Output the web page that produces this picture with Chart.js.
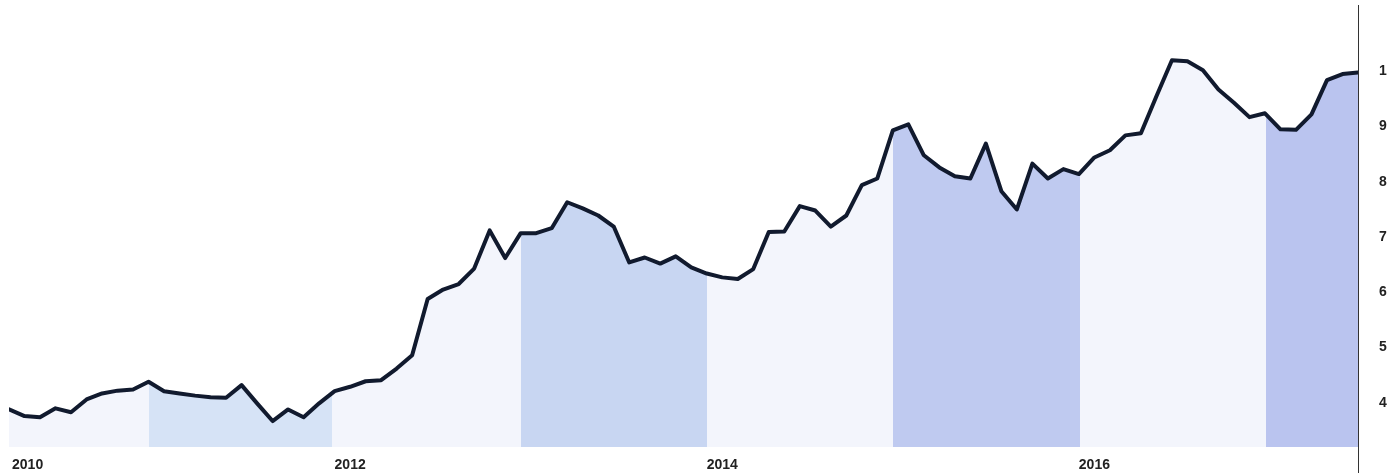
<!DOCTYPE html>
<html>
<head>
<meta charset="utf-8">
<script src="https://cdn.jsdelivr.net/npm/chart.js@4.4.1/dist/chart.umd.min.js"></script>
<style>
  html, body { margin: 0; padding: 0; background: #fff; }
  #wrap { width: 1387px; height: 473px; position: relative; }
</style>
</head>
<body>
<div id="wrap"><canvas id="chart"></canvas></div>
<script>
// monthly series, starts Mar 2010
const startYear = 2010;
const startMonth = 3;
const values = [
  38.8, 37.6, 37.4, 39.0, 38.3, 40.6, 41.7, 42.2, 42.4, 43.8,
  42.1, 41.7, 41.3, 41.0, 40.9, 43.2, 39.9, 36.7, 38.8, 37.4,
  39.9, 42.1, 42.9, 43.9, 44.1, 46.2, 48.6, 58.8, 60.5, 61.5,
  64.3, 71.2, 66.2, 70.7, 70.7, 71.6, 76.3, 75.2, 73.9, 71.9,
  65.4, 66.3, 65.2, 66.5, 64.5, 63.4, 62.7, 62.4, 64.2, 70.9,
  71.0, 75.6, 74.8, 71.9, 73.9, 79.4, 80.6, 89.3, 90.4, 84.8,
  82.6, 81.0, 80.6, 86.9, 78.3, 75.0, 83.3, 80.6, 82.3, 81.4,
  84.4, 85.7, 88.4, 88.8, 95.5, 102.0, 101.8, 100.2, 96.7, 94.3,
  91.7, 92.4, 89.5, 89.4, 92.2, 98.4, 99.5, 99.8
];
const yearTicks = [2010, 2012, 2014, 2016];
const valueTicks = [40, 50, 60, 70, 80, 90, 100];

// shaded periods (Dec - Nov)
const bands = [[2010.92, 2011.90], [2012.92, 2013.92], [2014.92, 2015.92], [2016.92, 2017.50]];
const bandColors = ["#d6e3f6", "#c8d6f2", "#bfcaf0", "#bac4ef"];
const baseFill = "#f3f5fc";

// x position of each month as a fractional year
const months = values.map((v, i) => startYear + (startMonth - 1 + i) / 12);

const labelFont = { family: '"Liberation Sans", Arial, sans-serif', size: 14, weight: "bold" };

function bandFill(context) {
  const chart = context.chart;
  const area = chart.chartArea;
  if (!area) return baseFill;
  const xs = chart.scales.x;
  const w = area.right - area.left;
  const pos = v => Math.min(1, Math.max(0, (xs.getPixelForValue(v) - area.left) / w));
  const g = chart.ctx.createLinearGradient(area.left, 0, area.right, 0);
  g.addColorStop(0, baseFill);
  bands.forEach(([a, b], i) => {
    const pa = pos(a);
    const pb = pos(b);
    g.addColorStop(pa, baseFill);
    g.addColorStop(pa, bandColors[i]);
    g.addColorStop(pb, bandColors[i]);
    if (pb < 1) g.addColorStop(pb, baseFill);
  });
  return g;
}

// right axis line runs to the bottom edge in the original
const axisTail = {
  id: "axisTail",
  afterDraw(chart) {
    const { ctx, chartArea, scales } = chart;
    const x = Math.round(scales.y.left) + 0.5;
    ctx.save();
    ctx.strokeStyle = "#333";
    ctx.lineWidth = 1;
    ctx.beginPath();
    ctx.moveTo(x, chartArea.bottom);
    ctx.lineTo(x, chart.height);
    ctx.stroke();
    ctx.restore();
  }
};

new Chart(document.getElementById("chart"), {
  type: "line",
  data: {
    datasets: [{
      data: months.map((m, i) => ({ x: m, y: values[i] })),
      borderColor: "#111a2e",
      borderWidth: 4,
      borderJoinStyle: "round",
      borderCapStyle: "round",
      backgroundColor: bandFill,
      fill: "start",
      pointRadius: 0,
      tension: 0
    }]
  },
  options: {
    responsive: true,
    maintainAspectRatio: false,
    animation: false,
    layout: { padding: { left: 9, top: 5, right: 0, bottom: 0 } },
    plugins: {
      legend: { display: false },
      tooltip: { enabled: false }
    },
    scales: {
      x: {
        type: "linear",
        min: months[0],
        max: months[months.length - 1],
        grid: { display: false, drawTicks: false },
        border: { display: false },
        afterBuildTicks: scale => {
          scale.ticks = yearTicks.map(y => ({ value: Math.max(y, scale.min + 0.1) }));
        },
        afterFit: scale => { scale.height = 26; },
        ticks: {
          color: "#222",
          font: labelFont,
          padding: 10,
          maxRotation: 0,
          autoSkip: false,
          callback: v => String(Math.floor(v + 1e-6))
        }
      },
      y: {
        position: "right",
        min: 32,
        max: 112,
        grid: { display: false, drawTicks: false },
        border: { display: true, color: "#333", width: 1 },
        afterBuildTicks: scale => {
          scale.ticks = valueTicks.map(v => ({ value: v }));
        },
        afterFit: scale => {
          scale.width = 29;
          scale.paddingTop = 0;
          scale.paddingBottom = 0;
        },
        ticks: {
          color: "#222",
          font: labelFont,
          padding: 21,
          crossAlign: "near"
        }
      }
    }
  },
  plugins: [axisTail]
});
</script>
</body>
</html>
